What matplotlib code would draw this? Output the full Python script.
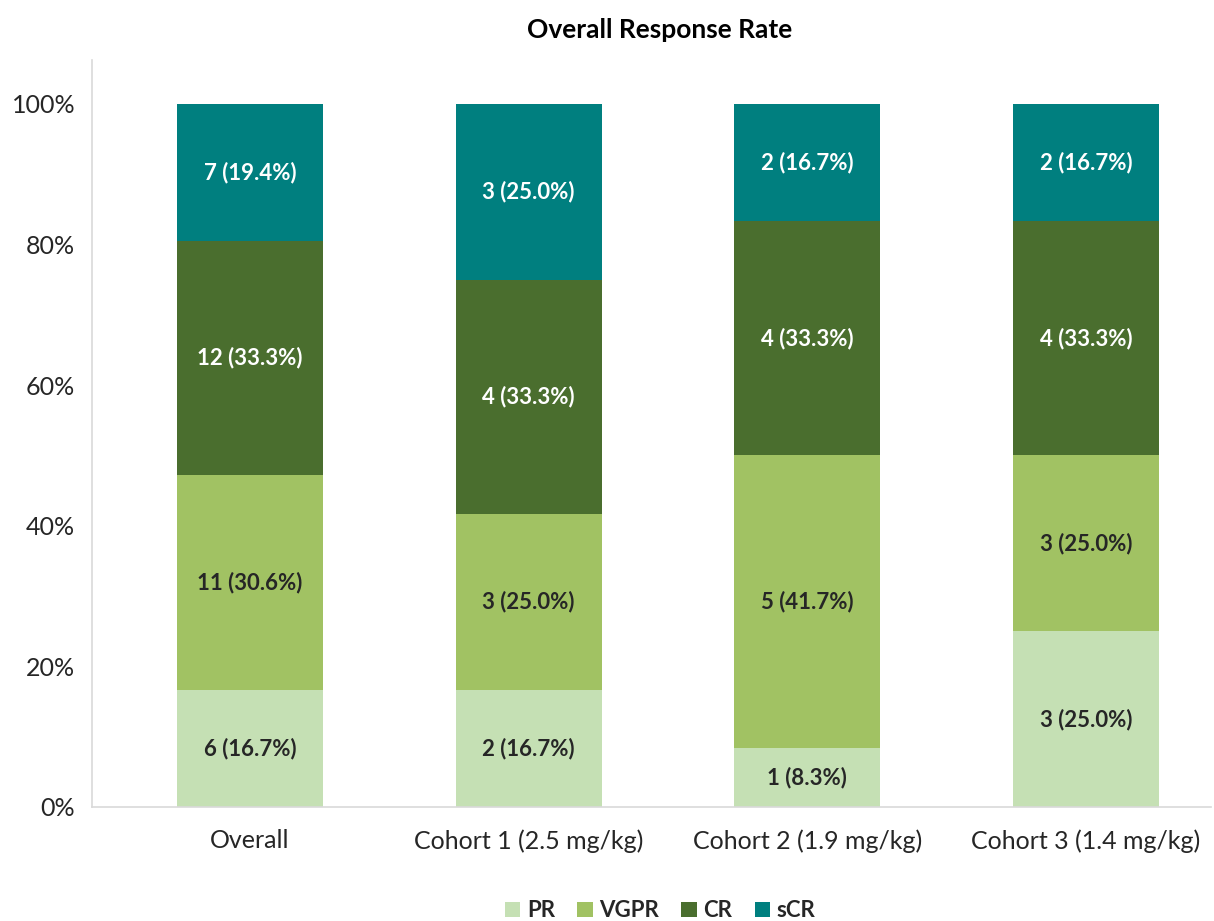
import matplotlib
matplotlib.use("Agg")
import matplotlib.pyplot as plt
import numpy as np
from matplotlib.patches import Patch

categories = ["Overall", "Cohort 1 (2.5 mg/kg)", "Cohort 2 (1.9 mg/kg)", "Cohort 3 (1.4 mg/kg)"]
series_names = ["PR", "VGPR", "CR", "sCR"]
pr = [6, 2, 1, 3]
vgpr = [11, 3, 5, 3]
cr = [12, 4, 4, 4]
scr = [7, 3, 2, 2]
yticks = [0, 0.2, 0.4, 0.6, 0.8, 1.0]
ytick_labels = ["0%", "20%", "40%", "60%", "80%", "100%"]

colors = ["#C5E0B4", "#A1C263", "#4A6E2E", "#007F7F"]
text_colors = ["#262626", "#262626", "white", "white"]

plt.rcParams['font.family'] = ['Lato', 'DejaVu Sans']

fig = plt.figure(figsize=(12.14, 9.21), dpi=100)
ax = fig.add_axes([0.0758, 0.1238, 0.922, 0.8111])

counts = np.array([pr, vgpr, cr, scr], dtype=float)
totals = counts.sum(axis=0)
fracs = counts / totals
x = np.arange(len(categories))
bottom = np.zeros(len(categories))
for i, name in enumerate(series_names):
    ax.bar(x, fracs[i], bottom=bottom, width=0.524, color=colors[i], label=name, zorder=2)
    for j in range(len(categories)):
        c = int(counts[i, j])
        pct = fracs[i, j] * 100
        ax.text(x[j], bottom[j] + fracs[i, j] / 2, f"{c} ({pct:.1f}%)",
                ha="center", va="center", fontsize=16, fontweight="bold",
                color=text_colors[i], zorder=3)
    bottom += fracs[i]

ax.set_xlim(-0.567, 3.45)
ax.set_ylim(0, 1.0626)
ax.set_yticks(yticks)
ax.set_yticklabels(ytick_labels)
ax.set_xticks(x)
ax.set_xticklabels(categories)
ax.tick_params(axis="both", length=0, labelsize=18, colors="#262626")
ax.tick_params(axis="x", pad=16)
ax.tick_params(axis="y", pad=12)
for s in ["top", "right"]:
    ax.spines[s].set_visible(False)
for s in ["left", "bottom"]:
    ax.spines[s].set_color("#D9D9D9")
    ax.spines[s].set_linewidth(1.2)

fig.text(0.5437, 0.967, "Overall Response Rate", ha="center", va="center",
         fontsize=19, fontweight="bold", color="black")

handles = [Patch(facecolor=colors[i], label=series_names[i]) for i in range(4)]
leg = fig.legend(handles=handles, loc="center", bbox_to_anchor=(0.5437, 0.011),
                 ncol=4, frameon=False, prop={"weight": "bold", "size": 16},
                 handlelength=0.7, handleheight=0.7, handletextpad=0.3, columnspacing=1.0)
for t in leg.get_texts():
    t.set_color("#262626")

fig.savefig("out.png", dpi=100)
